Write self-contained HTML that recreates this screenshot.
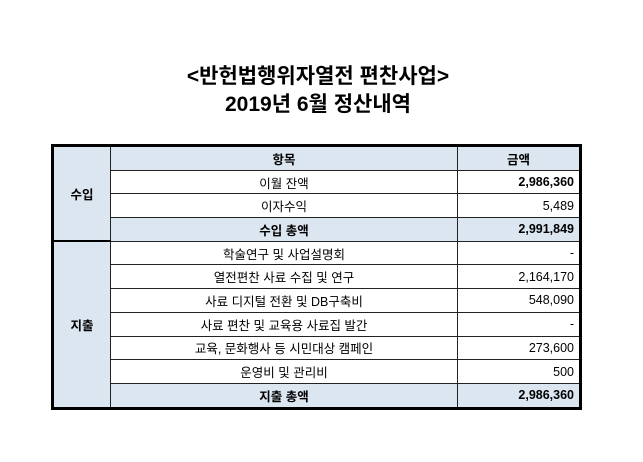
<!DOCTYPE html>
<html><head><meta charset="utf-8"><style>
body{margin:0;width:643px;height:462px;background:#fff;font-family:"Liberation Sans","Noto Sans CJK KR",sans-serif;position:relative;overflow:hidden}
.t{position:absolute;left:0;width:636px;text-align:center;font-weight:bold;font-size:21px;color:#000}
table{position:absolute;left:51px;top:144px;border-collapse:collapse;border:3px solid #000;font-size:12.5px;color:#000}
td{height:22.7px;padding:0 5px;border:1px solid #222;}
.b{background:#dce6f1}
.c{text-align:center}
.r{text-align:right}
.bold{font-weight:bold}
.l{width:46px;text-align:center;font-weight:bold;background:#dce6f1}
</style></head><body>
<div class="t" style="top:60px">&lt;반헌법행위자열전 편찬사업&gt;</div>
<div class="t" style="top:88px">2019년 6월 정산내역</div>
<table>
<tr><td class="l" rowspan="4" style="border-bottom:2px solid #000">수입</td><td class="c b bold" style="width:336px">항목</td><td class="c b bold" style="width:111px">금액</td></tr>
<tr><td class="c">이월 잔액</td><td class="r bold">2,986,360</td></tr>
<tr><td class="c">이자수익</td><td class="r">5,489</td></tr>
<tr><td class="c b bold">수입 총액</td><td class="r b bold">2,991,849</td></tr>
<tr><td class="l" rowspan="7">지출</td><td class="c">학술연구 및 사업설명회</td><td class="r">-</td></tr>
<tr><td class="c">열전편찬 사료 수집 및 연구</td><td class="r">2,164,170</td></tr>
<tr><td class="c">사료 디지털 전환 및 DB구축비</td><td class="r">548,090</td></tr>
<tr><td class="c">사료 편찬 및 교육용 사료집 발간</td><td class="r">-</td></tr>
<tr><td class="c">교육, 문화행사 등 시민대상 캠페인</td><td class="r">273,600</td></tr>
<tr><td class="c">운영비 및 관리비</td><td class="r">500</td></tr>
<tr><td class="c b bold">지출 총액</td><td class="r b bold">2,986,360</td></tr>
</table>
</body></html>
